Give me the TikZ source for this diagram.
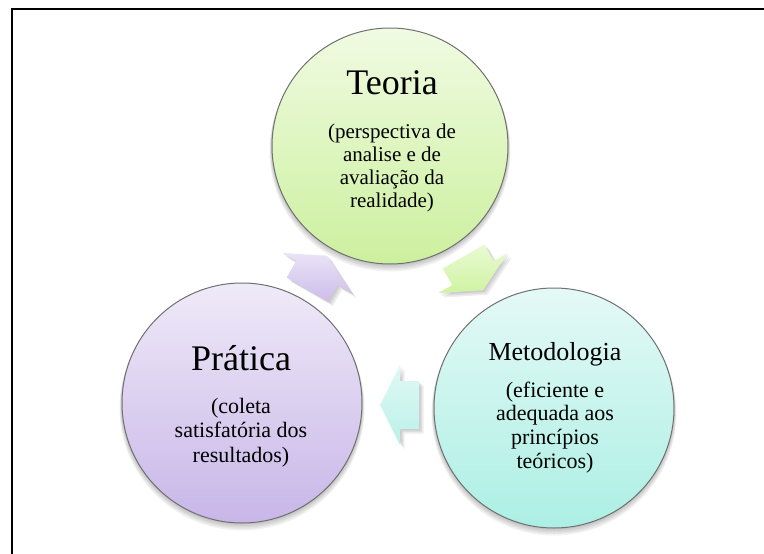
\documentclass[tikz,border=0pt]{standalone}
\usepackage{fontspec}
\setmainfont{Liberation Serif}
\definecolor{teoTop}{RGB}{240,251,226}
\definecolor{teoBot}{RGB}{204,240,158}
\definecolor{praTop}{RGB}{239,234,248}
\definecolor{praBot}{RGB}{200,182,232}
\definecolor{metTop}{RGB}{228,249,246}
\definecolor{metBot}{RGB}{172,239,228}
\definecolor{rimgrey}{RGB}{112,112,112}
\definecolor{arPurTop}{RGB}{234,227,247}
\definecolor{arPurBot}{RGB}{204,189,234}
\definecolor{arGrnTop}{RGB}{233,250,212}
\definecolor{arGrnBot}{RGB}{208,243,162}
\definecolor{arCynTop}{RGB}{225,249,245}
\definecolor{arCynBot}{RGB}{186,241,232}
\begin{document}
\begin{tikzpicture}[x=1pt,y=-1pt,
  bubble/.style={circle, draw=rimgrey, line width=1pt, minimum size=#1, inner sep=0pt},
  bigtitle/.style={anchor=base, inner sep=0pt, font=\fontsize{#1}{#1}\selectfont},
  subtext/.style={anchor=base, inner sep=0pt},
  shadowfill/.style={fill=black, opacity=0.05}
]
\useasboundingbox (0,0) rectangle (764,554);
\clip (0,0) rectangle (764,554);

% frame
\draw[line width=2pt] (12,560) -- (12,9) -- (770,9);

% soft shadows of circles
\foreach \cx/\cy/\r in {390/146/118, 242/403/120, 554/408/120}{
  \foreach \d in {1,2,3,4,5}{
    \fill[shadowfill] (\cx,{\cy+\d}) circle ({\r+0.5*\d});
  }
}

% soft shadows of arrows
\foreach \d in {1,2,3}{
  \fill[shadowfill,opacity=0.07,shift={(1.5*\d,1.5*\d)}]
    (286.7,277.5) -- (296.2,261) -- (282.4,253) -- (327,255.7) -- (351.6,293) -- (337.8,285) -- (328.3,301.5) -- cycle;
  \fill[shadowfill,opacity=0.07,shift={(1.5*\d,1.5*\d)}]
    (484.3,244.5) -- (493.8,261) -- (507.6,253) -- (483,290.3) -- (438.4,293) -- (452.2,285) -- (442.7,268.5) -- cycle;
  \fill[shadowfill,opacity=0.07,shift={(1.5*\d,1.5*\d)}]
    (419,429) -- (400,429) -- (400,445) -- (380,405) -- (400,365) -- (400,381) -- (419,381) -- cycle;
}

% block arrows
\shade[top color=arPurTop, bottom color=arPurBot]
  (286.7,277.5) -- (296.2,261) -- (282.4,253) -- (327,255.7) -- (351.6,293) -- (337.8,285) -- (328.3,301.5) -- cycle;
\shade[top color=arGrnTop, bottom color=arGrnBot]
  (484.3,244.5) -- (493.8,261) -- (507.6,253) -- (483,290.3) -- (438.4,293) -- (452.2,285) -- (442.7,268.5) -- cycle;
\shade[top color=arCynTop, bottom color=arCynBot]
  (419,429) -- (400,429) -- (400,445) -- (380,405) -- (400,365) -- (400,381) -- (419,381) -- cycle;

% circles
\node[bubble=236pt, top color=teoTop, bottom color=teoBot] (teoria) at (390,146) {};
\node[bubble=240pt, top color=praTop, bottom color=praBot] (pratica) at (242,403) {};
\node[bubble=240pt, top color=metTop, bottom color=metBot] (metodo) at (554,408) {};

% texts
\node[bigtitle=36] (teoriaT) at (392,94) {Teoria};
\node[subtext, font=\fontsize{21}{23}\selectfont] (teoriaS) at (392,138)
  {\begin{tabular}[t]{@{}c@{}}(perspectiva de\\analise e de\\avaliação da\\realidade)\end{tabular}};

\node[bigtitle=36] (praticaT) at (241,370) {Prática};
\node[subtext, font=\fontsize{22}{24.5}\selectfont] (praticaS) at (241,413)
  {\begin{tabular}[t]{@{}c@{}}(coleta\\satisfatória dos\\resultados)\end{tabular}};

\node[bigtitle=26] (metodoT) at (555,360) {Metodologia};
\node[subtext, font=\fontsize{22}{23.7}\selectfont] (metodoS) at (555,397)
  {\begin{tabular}[t]{@{}c@{}}(eficiente e\\adequada aos\\princípios\\teóricos)\end{tabular}};
\end{tikzpicture}
\end{document}
